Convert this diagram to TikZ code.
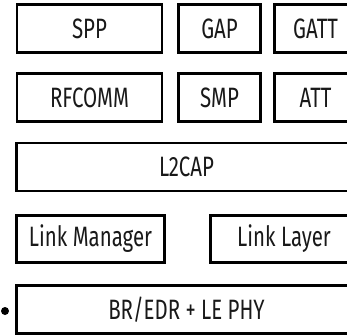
\documentclass[tikz,border=0pt]{standalone}
\usepackage{fontspec}
\setmainfont[FakeStretch=0.73]{Fira Sans}
\newcommand\layerfont{\fontsize{28pt}{30pt}\selectfont}
\begin{document}
\begin{tikzpicture}[x=1pt,y=-1pt,
  layer/.style={draw=black, line width=2.8pt, fill=white, inner sep=0pt,
    font=\layerfont, text=black!90},
]
\useasboundingbox (0,0) rectangle (347,336);
\clip (0,0) rectangle (347,336);
% top row: profiles
\node[layer, minimum width=145pt, minimum height=48pt] (spp)  at (89.5,28.5)  {SPP};
\node[layer, minimum width=82pt,  minimum height=48pt] (gap)  at (219.5,28.5) {GAP};
\node[layer, minimum width=82pt,  minimum height=48pt] (gatt) at (315.5,28.5) {GATT};
% second row
\node[layer, minimum width=145pt, minimum height=48pt] (rfcomm) at (89.5,97.5)  {RFCOMM};
\node[layer, minimum width=82pt,  minimum height=48pt] (smp)    at (219.5,97.5) {SMP};
\node[layer, minimum width=82pt,  minimum height=48pt] (att)    at (315.5,97.5) {ATT};
% L2CAP
\node[layer, minimum width=340pt, minimum height=48pt] (l2cap) at (186.5,167) {L2CAP};
% controller
\node[layer, minimum width=148pt, minimum height=47pt] (lm) at (90.5,239)  {Link Manager};
\node[layer, minimum width=147pt, minimum height=47pt] (ll) at (284,239)   {Link Layer};
% radio
\node[layer, minimum width=340pt, minimum height=48pt] (phy) at (186.5,309.5) {BR/EDR + LE PHY};
\fill (5,311) circle (4pt);
\end{tikzpicture}
\end{document}
